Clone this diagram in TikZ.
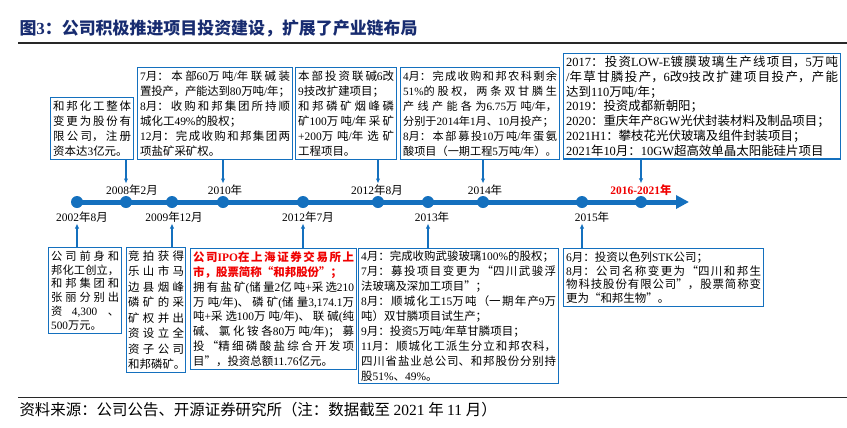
\documentclass[tikz,border=0pt]{standalone}
\usepackage{fontspec}
\setmainfont{Liberation Serif}
\newfontfamily\cjkfont{Noto Sans CJK SC}
\usetikzlibrary{arrows.meta,positioning}
% CJK characters go to the CJK family, the rest stays in the main font
\XeTeXinterchartokenstate=1
\newXeTeXintercharclass\cjkclass
\newcount\cjkc
\newcommand\setcjkrange[2]{\cjkc=#1\relax
  \loop
    \XeTeXcharclass\cjkc=\cjkclass
  \ifnum\cjkc<#2\relax
    \advance\cjkc by 1
  \repeat}
\setcjkrange{"3000}{"303F}
\setcjkrange{"4E00}{"9FFF}
\setcjkrange{"FF00}{"FFEF}
\XeTeXcharclass"201C=\cjkclass
\XeTeXcharclass"201D=\cjkclass
\XeTeXinterchartoks 0 \cjkclass={\cjkfont}
\XeTeXinterchartoks 4095 \cjkclass={\cjkfont}
\XeTeXinterchartoks \cjkclass 0={\rmfamily}
\XeTeXinterchartoks 4095 0={\rmfamily}
% stretchable gaps so that the lines can be justified
\XeTeXlinebreaklocale "zh"
\XeTeXlinebreakskip=0pt plus 3pt minus 1pt
\definecolor{tlblue}{RGB}{20,112,190}
\definecolor{navy}{RGB}{24,44,112}
\definecolor{ink}{RGB}{40,40,40}
\definecolor{tlred}{RGB}{240,0,0}
\newcommand{\redbf}[1]{{\color{tlred}\bfseries #1}}
\tikzset{
  evbox/.style={draw=tlblue,line width=1.3bp,fill=white,anchor=north west,
    inner xsep=2.5bp,inner ysep=2bp,align=justify,font=\fontsize{11.5}{15}\selectfont},
  yrdot/.style={circle,fill=tlblue,minimum size=12bp,inner sep=0pt},
  yrlab/.style={font=\fontsize{11.5}{13}\selectfont,inner sep=1bp},
  arr/.style={-{Latex[length=5bp,width=4.5bp]},tlblue,line width=1.3bp},
}
\begin{document}
\begin{tikzpicture}[x=1bp,y=-1bp]
  \useasboundingbox (0,0) rectangle (847,427);
  % heading and rules
  \node[anchor=west,text=navy,font=\fontsize{17}{20}\selectfont\bfseries] (title) at (16,29)
    {图3：公司积极推进项目投资建设，扩展了产业链布局};
  \draw[ink,line width=1.5bp] (18,43) -- (847,43);
  \draw[ink,line width=1bp] (18,397) -- (847,397);
  \node[anchor=west,font=\fontsize{15.5}{18}\selectfont] (src) at (16,410)
    {资料来源：公司公告、开源证券研究所（注：数据截至 2021 年 11 月）};

  % timeline with its dots
  \foreach \nm/\x in {2002/77,2008/126,2009/172,2010/223,2012a/303,
      2012b/378,2013/428,2014/483,2015/582,2016/641}
    \node[yrdot] (d\nm) at (\x,202) {};
  \coordinate (tip) at (689,202);
  \draw[tlblue,line width=5bp,-{Triangle[length=13bp,width=13bp]}] (d2002.center) -- (tip);

  % year labels
  \node[yrlab] (l2008) at (132,190) {2008年2月};
  \node[yrlab] (l2010) at (225,190) {2010年};
  \node[yrlab] (l2012b) at (377,190) {2012年8月};
  \node[yrlab] (l2014) at (485,190) {2014年};
  \node[yrlab,text=tlred,font=\fontsize{11.5}{13}\selectfont\bfseries] (l2016) at (641,190) {2016-2021年};
  \node[yrlab] (l2002) at (82,217) {2002年8月};
  \node[yrlab] (l2009) at (174,217) {2009年12月};
  \node[yrlab] (l2012a) at (308,217) {2012年7月};
  \node[yrlab] (l2013) at (432,217) {2013年};
  \node[yrlab] (l2015) at (592,217) {2015年};

  % boxes above the line
  \node[evbox,text width=78bp,minimum height=62bp] (b2008) at (50,97)
    {和邦化工整体\linebreak 变更为股份有\linebreak 限公司，注册\linebreak 资本达3亿元。};
  \node[evbox,text width=150bp,minimum height=92bp] (b2010) at (137,67)
    {7月：本部60万吨/年联碱装\linebreak 置投产，产能达到80万吨/年；\\8月：收购和邦集团所持顺\linebreak 城化工49\%的股权；\\12月：完成收购和邦集团两\linebreak 项盐矿采矿权。};
  \node[evbox,text width=96bp,minimum height=92bp] (b2012b) at (295,67)
    {本部投资联碱6改\linebreak 9技改扩建项目；\\和邦磷矿烟峰磷\linebreak 矿100万吨/年采矿\linebreak +200万吨/年选矿\linebreak 工程项目。};
  \node[evbox,text width=154bp,minimum height=92bp,font=\fontsize{11.2}{15}\selectfont] (b2014) at (400,67)
    {4月：完成收购和邦农科剩余\linebreak 51\%的股权，两条双甘膦生\linebreak 产线产能各为6.75万吨/年，\linebreak 分别于2014年1月、10月投产；\\8月：本部募投10万吨/年蛋氨\linebreak 酸项目（一期工程5万吨/年）。};
  \node[evbox,text width=272bp,minimum height=105bp,font=\fontsize{12.5}{15}\selectfont] (b2016) at (563,53)
    {2017：投资LOW-E镀膜玻璃生产线项目，5万吨\linebreak /年草甘膦投产，6改9技改扩建项目投产，产能\linebreak 达到110万吨/年；\\2019：投资成都新朝阳；\\2020：重庆年产8GW光伏封装材料及制品项目；\\2021H1：攀枝花光伏玻璃及组件封装项目；\\2021年10月：10GW超高效单晶太阳能硅片项目};

  % boxes below the line
  \node[evbox,text width=68bp,minimum height=86bp,font=\fontsize{11.3}{14}\selectfont] (b2002) at (48,247)
    {公司前身和\linebreak 邦化工创立，\linebreak 和邦集团和\linebreak 张丽分别出\linebreak 资 4,300 、\linebreak 500万元。};
  \node[evbox,inner xsep=1.5bp,text width=56bp,minimum height=125bp,font=\fontsize{11.5}{15.5}\selectfont] (b2009) at (126,247)
    {竞拍获得\linebreak 乐山市马\linebreak 边县烟峰\linebreak 磷矿的采\linebreak 矿权并出\linebreak 资设立全\linebreak 资子公司\linebreak \mbox{和邦磷矿。}};
  \node[evbox,text width=161bp,minimum height=121bp] (b2012a) at (190,248)
    {\redbf{公司IPO在上海证券交易所上\linebreak 市，股票简称“和邦股份”；}\\拥有盐矿(储量2亿吨+采选210\linebreak 万吨/年)、磷矿(储量3,174.1万\linebreak 吨+采选100万吨/年)、联碱(纯\linebreak 碱、氯化铵各80万吨/年)；募\linebreak 投“精细磷酸盐综合开发项\linebreak 目”，投资总额11.76亿元。};
  \node[evbox,text width=195bp,minimum height=135bp] (b2013) at (358,248)
    {4月：完成收购武骏玻璃100\%的股权；\\7月：募投项目变更为“四川武骏浮\linebreak 法玻璃及深加工项目”；\\8月：顺城化工15万吨（一期年产9万\linebreak 吨）双甘膦项目试生产；\\9月：投资5万吨/年草甘膦项目；\\11月：顺城化工派生分立和邦农科，\linebreak 四川省盐业总公司、和邦股份分别持\linebreak 股51\%、49\%。};
  \node[evbox,text width=195bp,minimum height=58bp,font=\fontsize{11.5}{14}\selectfont] (b2015) at (563,248)
    {6月：投资以色列STK公司；\\8月：公司名称变更为“四川和邦生\linebreak 物科技股份有限公司”，股票简称变\linebreak 更为“和邦生物”。};

  % stems to the labels
  \draw[arr] (b2008.south -| d2008) -- (l2008.north -| d2008);
  \draw[arr] (b2010.south -| d2010) -- (l2010.north -| d2010);
  \draw[arr] (b2012b.south -| d2012b) -- (l2012b.north -| d2012b);
  \draw[arr] (b2014.south -| d2014) -- (l2014.north -| d2014);
  \draw[arr] (b2016.south -| d2016) -- (l2016.north -| d2016);
  \draw[arr] (b2002.north -| d2002) -- (l2002.south -| d2002);
  \draw[arr] (b2009.north -| d2009) -- (l2009.south -| d2009);
  \draw[arr] (b2012a.north -| d2012a) -- (l2012a.south -| d2012a);
  \draw[arr] (b2013.north -| d2013) -- (l2013.south -| d2013);
  \draw[arr] (b2015.north -| d2015) -- (l2015.south -| d2015);
\end{tikzpicture}
\end{document}
